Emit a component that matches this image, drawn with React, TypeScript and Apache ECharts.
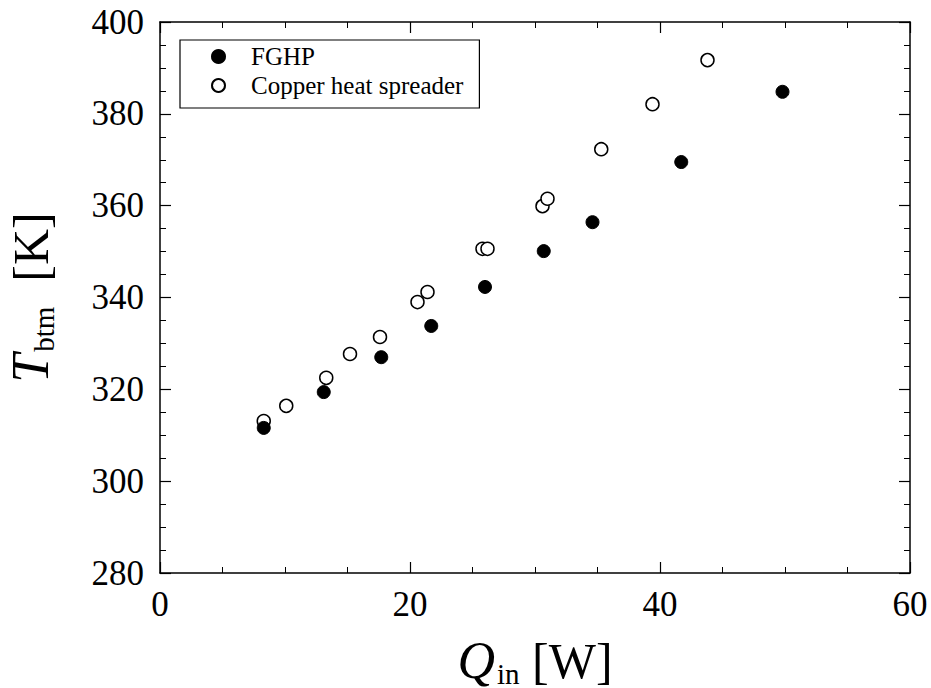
import React, { useEffect, useRef } from "react";
import * as echarts from "echarts";

const fghpQ = [8.3, 13.1, 17.7, 21.7, 26.0, 30.7, 34.6, 41.7, 49.8];
const fghpT = [311.6, 319.4, 327.0, 333.8, 342.3, 350.1, 356.4, 369.5, 384.8];
const copperQ = [8.3, 10.1, 13.3, 15.2, 17.6, 20.6, 21.4, 25.8, 26.2, 30.6, 31.0, 35.3, 39.4, 43.8];
const copperT = [313.1, 316.4, 322.5, 327.7, 331.4, 339.0, 341.2, 350.6, 350.6, 359.9, 361.5, 372.3, 382.1, 391.7];

const FONT = "'Liberation Serif', 'Times New Roman', serif";

export default function App() {
  const ref = useRef<HTMLDivElement>(null);
  useEffect(() => {
    const chart = echarts.init(ref.current!, null, { renderer: "svg" });
    const axisCommon = {
      axisLine: { show: true, onZero: false, lineStyle: { color: "#000", width: 1.5 } },
      axisTick: { show: true, inside: true, length: 11, lineStyle: { color: "#000", width: 1.2 } },
      minorTick: { show: true, splitNumber: 4, length: 6, lineStyle: { color: "#000", width: 1 } },
      splitLine: { show: false },
    };
    const titleRich = {
      q: { fontFamily: FONT, fontStyle: "italic", fontSize: 52, color: "#000" },
      sub: { fontFamily: FONT, fontSize: 29, color: "#000", padding: [26, 0, 0, 2] },
      n: { fontFamily: FONT, fontSize: 50, color: "#000" },
    };
    chart.setOption({
      animation: false,
      backgroundColor: "#fff",
      grid: { left: 160, right: 21, top: 22, bottom: 115, outerBoundsMode: "none", containLabel: false },
      legend: {
        left: 180,
        top: 40,
        orient: "vertical",
        borderColor: "#000",
        borderWidth: 1.2,
        padding: [4, 16, 10, 31],
        itemGap: 4,
        itemWidth: 13,
        itemHeight: 13,
        textStyle: {
          fontFamily: FONT,
          fontSize: 25,
          lineHeight: 25,
          color: "#000",
          padding: [0, 0, 0, 21],
        },
        data: [
          { name: "FGHP", icon: "circle" },
          { name: "Copper heat spreader", icon: "circle" },
        ],
      },
      xAxis: [
        {
          type: "value",
          min: 0,
          max: 60,
          interval: 20,
          position: "bottom",
          ...axisCommon,
          axisLabel: { fontFamily: FONT, fontSize: 35, color: "#000", margin: 14 },
          name: "{q|Q}{sub|in}{n| [W]}",
          nameLocation: "middle",
          nameGap: 60,
          nameTextStyle: { rich: titleRich },
        },
        {
          type: "value",
          min: 0,
          max: 60,
          interval: 20,
          position: "top",
          ...axisCommon,
          axisLabel: { show: false },
        },
      ],
      yAxis: [
        {
          type: "value",
          min: 280,
          max: 400,
          interval: 20,
          position: "left",
          ...axisCommon,
          axisLabel: { fontFamily: FONT, fontSize: 35, color: "#000", margin: 16 },
          name: "{q|T}{sub|btm}{n|  [K]}",
          nameLocation: "middle",
          nameGap: 102,
          nameTextStyle: { rich: titleRich },
        },
        {
          type: "value",
          min: 280,
          max: 400,
          interval: 20,
          position: "right",
          ...axisCommon,
          axisLabel: { show: false },
        },
      ],
      series: [
        {
          name: "FGHP",
          type: "scatter",
          symbol: "circle",
          symbolSize: 13,
          itemStyle: { color: "#000", borderColor: "#000", borderWidth: 1, opacity: 1 },
          data: fghpQ.map((q, i) => [q, fghpT[i]]),
          z: 3,
        },
        {
          name: "Copper heat spreader",
          type: "scatter",
          symbol: "circle",
          symbolSize: 13,
          itemStyle: { color: "#fff", borderColor: "#000", borderWidth: 1.5, opacity: 1 },
          data: copperQ.map((q, i) => [q, copperT[i]]),
          z: 2,
        },
      ],
    });
    return () => chart.dispose();
  }, []);
  return <div ref={ref} style={{ width: 931, height: 688, position: "absolute", left: 0, top: 0 }} />;
}
